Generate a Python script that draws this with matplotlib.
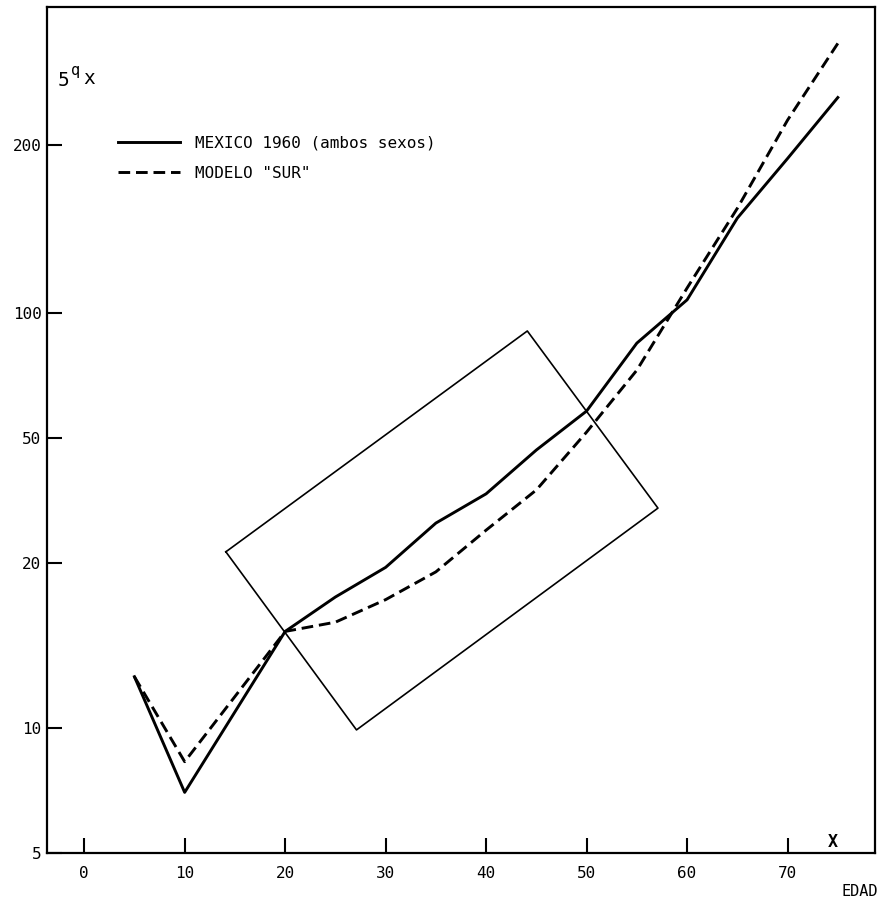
import matplotlib
matplotlib.use('Agg')
import matplotlib.pyplot as plt

# edad (x) y 5qx
edad = [5, 10, 20, 25, 30, 35, 40, 45, 50, 55, 60, 65, 70, 75]
mexico = [13.3, 7.0, 17.1, 20.7, 24.4, 31.2, 36.7, 46.8, 58.1, 84.7, 107.7, 169.5, 236, 331]
sur = [13.3, 8.3, 17.1, 18.0, 20.4, 23.8, 30.0, 37.5, 51.7, 72.9, 115, 179, 292, 447]

# rectangulo inclinado
rect_x = [14.1, 44.1, 57.1, 27.1, 14.1]
rect_y = [26.6, 90.6, 33.9, 9.9, 26.6]

xticks = [0, 10, 20, 30, 40, 50, 60, 70]
yticks = [5, 10, 25, 50, 100, 255]
ylabels = ['5', '10', '20', '50', '100', '200']

plt.rcParams['font.family'] = ['DejaVu Sans Mono']

fig = plt.figure(figsize=(8.8, 8.99), dpi=100)
ax = fig.add_axes([47/880, 46/899, 828/880, 846/899])

ax.plot(edad, mexico, color='black', lw=2.1, label='MEXICO 1960 (ambos sexos)')
ax.plot(edad, sur, color='black', lw=2.1, dashes=(4, 2), label='MODELO "SUR"')
ax.plot(rect_x, rect_y, color='black', lw=1.2)

ax.set_yscale('log')
ax.set_xlim(-3.7, 78.7)
ax.set_ylim(5, 547)
ax.set_xticks(xticks)
ax.set_xticklabels([str(t) for t in xticks])
ax.set_yticks(yticks)
ax.set_yticklabels(ylabels)
ax.minorticks_off()
ax.tick_params(direction='in', length=11, width=1.5, labelsize=11.5, pad=4)
ax.tick_params(axis='x', pad=9)
for s in ax.spines.values():
    s.set_linewidth(1.6)

leg = ax.legend(loc='upper left', bbox_to_anchor=(0.0857, 0.8485), frameon=False,
                handlelength=3.9, handletextpad=0.94, labelspacing=0.98,
                borderpad=0, borderaxespad=0, prop={'size': 11.5})

# etiqueta del eje y: 5 q x
fig.text(63/880, 1 - 80/899, '5', fontsize=14, ha='center', va='center')
fig.text(76/880, 1 - 70/899, 'q', fontsize=11, ha='center', va='center')
fig.text(89/880, 1 - 78/899, 'x', fontsize=14, ha='center', va='center')

fig.text(833/880, 1 - 842/899, 'X', fontsize=12, fontweight='bold', ha='center', va='center')
fig.text(860/880, 1 - 891/899, 'EDAD', fontsize=11, ha='center', va='center')

fig.savefig('out.png', dpi=100)
